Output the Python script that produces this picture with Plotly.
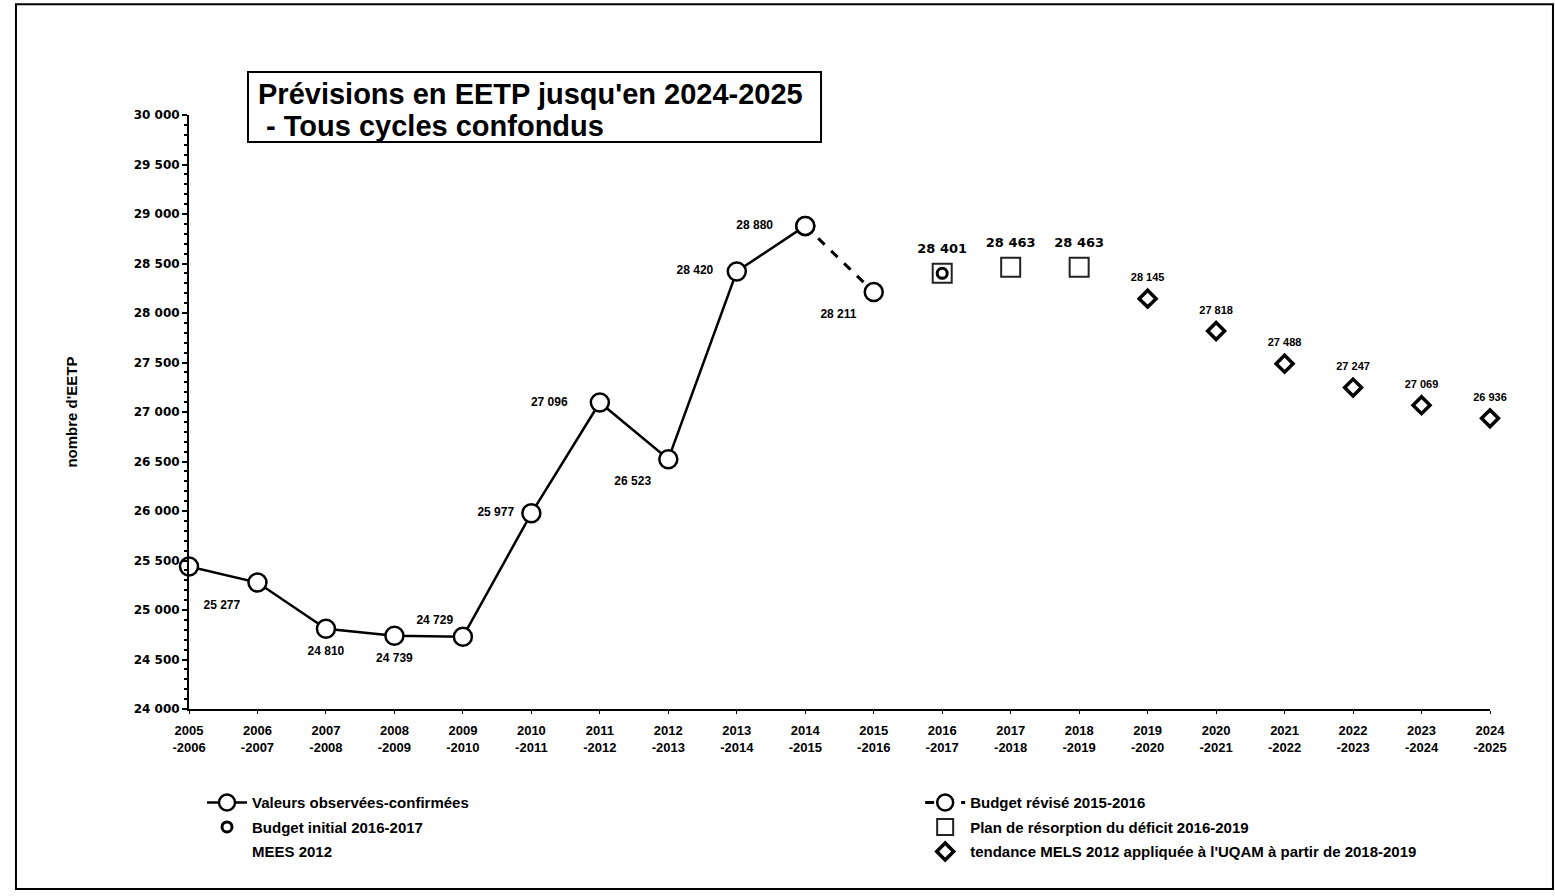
import plotly.graph_objects as go

# ---------------- data ----------------
categories = ["2005<br>-2006", "2006<br>-2007", "2007<br>-2008", "2008<br>-2009", "2009<br>-2010",
              "2010<br>-2011", "2011<br>-2012", "2012<br>-2013", "2013<br>-2014", "2014<br>-2015",
              "2015<br>-2016", "2016<br>-2017", "2017<br>-2018", "2018<br>-2019", "2019<br>-2020",
              "2020<br>-2021", "2021<br>-2022", "2022<br>-2023", "2023<br>-2024", "2024<br>-2025"]

obs_cats = categories[0:10]
obs_values = [25440, 25277, 24810, 24739, 24729, 25977, 27096, 26523, 28420, 28880]
obs_labels = ["", "25 277", "24 810", "24 739", "24 729", "25 977", "27 096", "26 523", "28 420", "28 880"]

rev_cats = categories[9:11]
rev_values = [28880, 28211]
rev_labels = ["", "28 211"]

init_cats = [categories[11]]
init_values = [28401]

plan_cats = categories[11:14]
plan_values = [28401, 28463, 28463]
plan_labels = ["28 401", "28 463", "28 463"]

trend_cats = categories[14:20]
trend_values = [28145, 27818, 27488, 27247, 27069, 26936]
trend_labels = ["28 145", "27 818", "27 488", "27 247", "27 069", "26 936"]

y_tickvals = [24000, 24500, 25000, 25500, 26000, 26500, 27000, 27500, 28000, 28500, 29000, 29500, 30000]
y_ticktext = ["24 000", "24 500", "25 000", "25 500", "26 000", "26 500", "27 000", "27 500",
              "28 000", "28 500", "29 000", "29 500", "30 000"]

name_obs = "Valeurs observées-confirmées"
name_init = "Budget initial 2016-2017"
name_mees = "MEES 2012"
name_rev = "Budget révisé 2015-2016"
name_plan = "Plan de résorption du déficit 2016-2019"
name_trend = "tendance MELS 2012 appliquée à l'UQAM à partir de 2018-2019"
title_line1 = "Prévisions en EETP jusqu'en 2024-2025"
title_line2 = " - Tous cycles confondus"

# ---------------- styling ----------------
FONT = "Liberation Sans, Arial, sans-serif"
lab_font = dict(family=FONT, size=12, color="black", weight="bold")
CLEAR = "rgba(0,0,0,0)"

# label placement (style only)
obs_label_pos = ["bottom left", "bottom left", "bottom center", "bottom center", "top left",
                 "middle left", "middle left", "bottom left", "middle left", "middle left"]
obs_label_pad = [26, 26, 26, 26, 14, 26, 50, 26, 36, 50]

fig = go.Figure()

# Budget révisé (dashed connector)
fig.add_trace(go.Scatter(
    x=rev_cats, y=rev_values, mode="lines+markers", name=name_rev,
    line=dict(color="black", width=3, dash="dash"),
    marker=dict(symbol="circle", size=18, color="white", line=dict(color="black", width=2.5)),
    cliponaxis=False, legend="legend2", legendgroup="r"))

# Observed values
fig.add_trace(go.Scatter(
    x=obs_cats, y=obs_values, mode="lines+markers", name=name_obs,
    line=dict(color="black", width=2.5),
    marker=dict(symbol="circle", size=18, color="white", line=dict(color="black", width=2.5)),
    cliponaxis=False, legend="legend", legendgroup="o"))

# Plan de résorption (squares)
fig.add_trace(go.Scatter(
    x=plan_cats, y=plan_values, mode="markers", name=name_plan,
    marker=dict(symbol="square-open", size=19, color="#222", line=dict(color="#222", width=2)),
    cliponaxis=False, legend="legend2", legendgroup="p"))

# Budget initial (small circle)
fig.add_trace(go.Scatter(
    x=init_cats, y=init_values, mode="markers", name=name_init,
    marker=dict(symbol="circle-open", size=10, color="black", line=dict(color="black", width=3)),
    cliponaxis=False, legend="legend", legendgroup="i"))

# MEES 2012 (legend text only)
fig.add_trace(go.Scatter(
    x=[None], y=[None], mode="markers", name=name_mees,
    marker=dict(size=1, color=CLEAR),
    legend="legend", legendgroup="m"))

# Tendance MELS (diamonds)
fig.add_trace(go.Scatter(
    x=trend_cats, y=trend_values, mode="markers", name=name_trend,
    marker=dict(symbol="diamond-open", size=13, color="black", line=dict(color="black", width=3.5)),
    cliponaxis=False, legend="legend2", legendgroup="t"))


# ---- labels (invisible-marker traces so text is offset from the point) ----
def label_trace(x, y, text, pos, font, msize):
    return go.Scatter(
        x=x, y=y, mode="markers+text", text=text, textposition=pos, textfont=font,
        marker=dict(size=msize, color=CLEAR, line=dict(width=0)),
        showlegend=False, cliponaxis=False, hoverinfo="skip")


fig.add_trace(label_trace(obs_cats, obs_values, obs_labels, obs_label_pos, lab_font, obs_label_pad))
fig.add_trace(label_trace(rev_cats, rev_values, rev_labels, "bottom left", lab_font, 26))
fig.add_trace(label_trace(plan_cats, plan_values, plan_labels, "top center",
                          dict(family="DejaVu Sans, sans-serif", size=13, color="black", weight="bold"), 26))
fig.add_trace(label_trace(trend_cats, trend_values, trend_labels, "top center",
                          dict(family=FONT, size=11, color="black", weight="bold"), 22))

# ---------------- layout ----------------
leg_font = dict(family=FONT, size=15, color="black", weight="bold")
fig.update_layout(
    width=1555, height=896,
    margin=dict(l=189, r=65, t=115, b=187),
    paper_bgcolor="white", plot_bgcolor="white",
    font=dict(family=FONT, color="black"),
    showlegend=True,
    legend=dict(x=0.010, y=-0.13, xanchor="left", yanchor="top", orientation="v",
                font=leg_font, tracegroupgap=2,
                bgcolor=CLEAR, itemwidth=40, traceorder="grouped"),
    legend2=dict(x=0.562, y=-0.13, xanchor="left", yanchor="top", orientation="v",
                 font=leg_font, tracegroupgap=2,
                 bgcolor=CLEAR, itemwidth=40, traceorder="grouped"),
    annotations=[
        dict(text=title_line1, xref="paper", yref="paper", x=0.0515, y=1.0354,
             xanchor="left", yanchor="middle", showarrow=False, align="left",
             font=dict(family=FONT, size=29, color="black", weight="bold")),
        dict(text=title_line2, xref="paper", yref="paper", x=0.0515, y=0.9815,
             xanchor="left", yanchor="middle", showarrow=False, align="left",
             font=dict(family=FONT, size=29, color="black", weight="bold")),
    ],
    shapes=[
        dict(type="rect", xref="paper", yref="paper",
             x0=-0.133, x1=1.0484, y0=-0.303, y1=1.1865,
             line=dict(color="black", width=2), layer="below"),
        dict(type="rect", xref="paper", yref="paper",
             x0=0.04535, x1=0.4858, y0=0.9545, y1=1.0724,
             line=dict(color="black", width=2), fillcolor="white", layer="below"),
    ],
)

fig.update_xaxes(
    type="category", categoryorder="array", categoryarray=categories,
    range=[0, len(categories) - 1],
    showline=True, linecolor="black", linewidth=1.5,
    ticks="outside", ticklen=3, tickcolor="black",
    ticklabelstandoff=6,
    showgrid=False, zeroline=False,
    tickfont=dict(family=FONT, size=13, color="black", weight="bold"),
)

fig.update_yaxes(
    range=[24000, 30000], tickvals=y_tickvals, ticktext=y_ticktext,
    showline=True, linecolor="black", linewidth=2,
    ticks="outside", ticklen=5, tickcolor="black", tickwidth=1.5,
    minor=dict(ticks="outside", ticklen=3, tickcolor="black", dtick=100),
    showgrid=False, zeroline=False,
    tickfont=dict(family="DejaVu Sans, sans-serif", size=12, color="black", weight="bold"),
    title=dict(text="nombre d'EETP", standoff=52,
               font=dict(family=FONT, size=15, color="black", weight="bold")),
)

fig.write_html("out.html")
